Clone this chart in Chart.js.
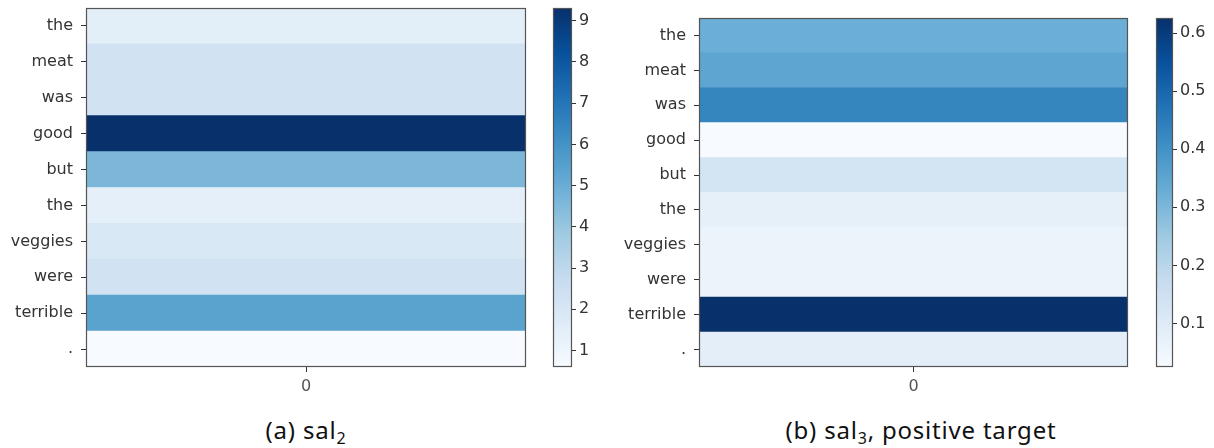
<!DOCTYPE html>
<html>
<head>
<meta charset="utf-8">
<script src="https://cdn.jsdelivr.net/npm/chart.js@4.4.1/dist/chart.umd.min.js"></script>
<style>
  html, body { margin: 0; padding: 0; background: #fff; }
  body { width: 1214px; height: 448px; position: relative; overflow: hidden; }
  canvas { position: absolute; }
  .cap {
    position: absolute; top: 418px;
    font-family: "Noto Sans", sans-serif; font-size: 24px; letter-spacing: 0.8px;
    line-height: 24px; color: #111; white-space: nowrap; transform: translateX(-50%);
  }
  .cap sub { font-size: 16px; vertical-align: -5px; line-height: 0; }
</style>
</head>
<body>
<canvas id="heatA" width="540" height="400" style="left:0;top:0"></canvas>
<canvas id="barA" width="60" height="400" style="left:545px;top:0"></canvas>
<canvas id="heatB" width="540" height="400" style="left:600px;top:0"></canvas>
<canvas id="barB" width="66" height="400" style="left:1148px;top:0"></canvas>
<div class="cap" style="left:306px">(a) sal<sub>2</sub></div>
<div class="cap" style="left:921px">(b) sal<sub>3</sub>, positive target</div>

<script>
// Tokens of the sentence, one heatmap row each
const tokens = ['the', 'meat', 'was', 'good', 'but', 'the', 'veggies', 'were', 'terrible', '.'];
// Single column index of the heatmaps
const columns = [0];
// Saliency per token
const sal2 = [1.5, 2.3, 2.3, 9.31, 4.6, 1.4, 1.9, 2.3, 5.4, 0.6];
const sal3 = [0.325, 0.35, 0.43, 0.025, 0.135, 0.077, 0.062, 0.062, 0.626, 0.085];
// Colorbar tick values
const ticksA = [1, 2, 3, 4, 5, 6, 7, 8, 9];
const ticksB = [0.1, 0.2, 0.3, 0.4, 0.5, 0.6];

// matplotlib "Blues" colormap stops
const BLUES = ['#f7fbff', '#deebf7', '#c6dbef', '#9ecae1', '#6baed6', '#4292c6', '#2171b5', '#08519c', '#08306b'];

function hexToRgb(h) {
  return [parseInt(h.slice(1, 3), 16), parseInt(h.slice(3, 5), 16), parseInt(h.slice(5, 7), 16)];
}
function blues(t) {
  t = Math.max(0, Math.min(1, t));
  const n = BLUES.length - 1;
  const i = Math.min(Math.floor(t * n), n - 1);
  const f = t * n - i;
  const a = hexToRgb(BLUES[i]), b = hexToRgb(BLUES[i + 1]);
  const c = a.map((v, k) => Math.round(v + (b[k] - v) * f));
  return `rgb(${c[0]},${c[1]},${c[2]})`;
}

const TICK_FONT = { family: 'DejaVu Sans', size: 16 };
const TICK_COLOR = '#333';

// Box around the plotting area, like a matplotlib axes frame
const framePlugin = {
  id: 'frame',
  afterDatasetsDraw(chart) {
    const a = chart.chartArea, c = chart.ctx;
    c.save();
    c.strokeStyle = '#555';
    c.lineWidth = 1.2;
    c.strokeRect(a.left + 0.5, a.top + 0.5, a.right - a.left - 1, a.bottom - a.top - 1);
    c.restore();
  }
};

function zeroPad(scale) {
  scale.paddingTop = 0; scale.paddingBottom = 0;
  scale.paddingLeft = 0; scale.paddingRight = 0;
}

function heatmap(id, values, yWidth, padTop, padRight) {
  const lo = Math.min(...values), hi = Math.max(...values);
  const col = columns[0];
  new Chart(document.getElementById(id), {
    type: 'bar',
    data: {
      labels: tokens,
      datasets: [{
        data: values.map(() => [col - 0.5, col + 0.5]),
        backgroundColor: values.map(v => blues((v - lo) / (hi - lo))),
        borderWidth: 0,
        barPercentage: 1,
        categoryPercentage: 1
      }]
    },
    options: {
      indexAxis: 'y',
      responsive: false,
      animation: false,
      devicePixelRatio: 1,
      layout: { padding: { top: padTop, right: padRight, left: 0, bottom: 0 } },
      plugins: { legend: { display: false }, tooltip: { enabled: false } },
      scales: {
        x: {
          type: 'linear', min: -0.5, max: 0.5,
          afterBuildTicks: s => { s.ticks = columns.map(v => ({ value: v })); },
          afterFit: s => { s.height = 33; zeroPad(s); },
          grid: { display: true, drawOnChartArea: false, drawTicks: true, tickLength: 5, color: TICK_COLOR },
          border: { display: false },
          ticks: { font: TICK_FONT, color: '#555', padding: 5, callback: v => String(v) }
        },
        y: {
          type: 'category',
          afterFit: s => { s.width = yWidth; zeroPad(s); },
          grid: { display: true, offset: false, drawOnChartArea: false, drawTicks: true, tickLength: 5, color: TICK_COLOR },
          border: { display: false },
          ticks: { font: TICK_FONT, color: TICK_COLOR, padding: 8, autoSkip: false }
        }
      }
    },
    plugins: [framePlugin]
  });
}

function colorbar(id, values, tickVals, decimals, padTop, yWidth) {
  const lo = Math.min(...values), hi = Math.max(...values);
  new Chart(document.getElementById(id), {
    type: 'bar',
    data: {
      labels: [''],
      datasets: [{
        data: [[lo, hi]],
        backgroundColor: ctx => {
          const a = ctx.chart.chartArea;
          if (!a) return BLUES[4];
          const g = ctx.chart.ctx.createLinearGradient(0, a.bottom, 0, a.top);
          BLUES.forEach((c, i) => g.addColorStop(i / (BLUES.length - 1), c));
          return g;
        },
        borderWidth: 0,
        barPercentage: 1,
        categoryPercentage: 1
      }]
    },
    options: {
      responsive: false,
      animation: false,
      devicePixelRatio: 1,
      layout: { padding: { top: padTop, left: 8, right: 0, bottom: 33 } },
      plugins: { legend: { display: false }, tooltip: { enabled: false } },
      scales: {
        x: { display: false },
        y: {
          type: 'linear', position: 'right', min: lo, max: hi,
          afterBuildTicks: s => { s.ticks = tickVals.map(v => ({ value: v })); },
          afterFit: s => { s.width = yWidth; zeroPad(s); },
          grid: { display: true, drawOnChartArea: false, drawTicks: true, tickLength: 4, color: TICK_COLOR },
          border: { display: false },
          ticks: { font: TICK_FONT, color: TICK_COLOR, padding: 3, callback: v => Number(v).toFixed(decimals) }
        }
      }
    },
    plugins: [framePlugin]
  });
}

heatmap('heatA', sal2, 86, 8, 14);
colorbar('barA', sal2, ticksA, 0, 8, 33);
heatmap('heatB', sal3, 99, 18, 12);
colorbar('barB', sal3, ticksB, 1, 18, 41);
</script>
</body>
</html>
